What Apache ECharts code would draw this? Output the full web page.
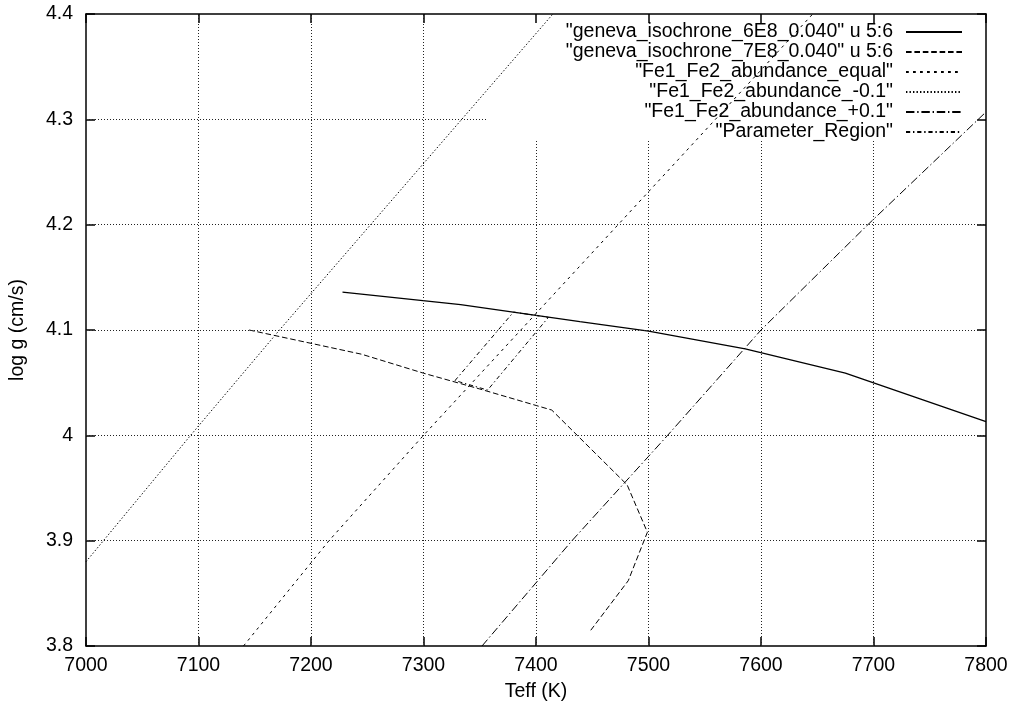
<!DOCTYPE html>
<html>
<head>
<meta charset="utf-8">
<title>Teff vs log g</title>
<script src="https://cdn.jsdelivr.net/npm/echarts@6/dist/echarts.min.js"></script>
<style>
  html, body { margin: 0; padding: 0; background: #fff; }
  #chart { width: 1014px; height: 706px; }
</style>
</head>
<body>
<div id="chart"></div>
<script>
// axis ticks
const xTicks = [7000, 7100, 7200, 7300, 7400, 7500, 7600, 7700, 7800];
const yTicks = [3.8, 3.9, 4.0, 4.1, 4.2, 4.3, 4.4];

// geneva isochrone 6E8 (solid)
const iso6Teff = [7228, 7333, 7439, 7500, 7586, 7675, 7800];
const iso6Logg = [4.136, 4.124, 4.108, 4.099, 4.082, 4.059, 4.013];

// geneva isochrone 7E8 (dashed)
const iso7Teff = [7145, 7245, 7300, 7350, 7414, 7481, 7499, 7482, 7448];
const iso7Logg = [4.100, 4.077, 4.059, 4.044, 4.024, 3.953, 3.908, 3.862, 3.814];

// Fe1/Fe2 abundance lines
const eqTeff = [7140, 7216, 7300, 7646];
const eqLogg = [3.80, 3.90, 4.00, 4.40];
const minusTeff = [7000, 7093, 7172, 7415];
const minusLogg = [3.88, 4.00, 4.10, 4.40];
const plusTeff = [7352, 7432, 7517, 7600, 7695, 7800];
const plusLogg = [3.80, 3.90, 4.00, 4.10, 4.20, 4.307];

// parameter region outline
const regionTeff = [7328, 7380, 7411, 7357, 7328];
const regionLogg = [4.052, 4.117, 4.112, 4.043, 4.052];

// the key hides the grid in the upper right corner
const keyLeftTeff = 7356;
const keyBottomLogg = 4.28;

const FONT = 'Liberation Sans, Arial, sans-serif';
const pts = (xs, ys) => xs.map((x, i) => [x, ys[i]]);

const names = [
  '"geneva_isochrone_6E8_0.040" u 5:6',
  '"geneva_isochrone_7E8_0.040" u 5:6',
  '"Fe1_Fe2_abundance_equal"',
  '"Fe1_Fe2_abundance_-0.1"',
  '"Fe1_Fe2_abundance_+0.1"',
  '"Parameter_Region"'
];

function lineSeries(name, data, dash, width) {
  return {
    name: name,
    type: 'line',
    data: data,
    symbol: 'none',
    showSymbol: false,
    z: 3,
    lineStyle: { color: '#000', width: width || 1, type: dash }
  };
}

const gridLines = [];
xTicks.slice(1, -1).forEach(t => {
  gridLines.push([{ coord: [t, 3.8] }, { coord: [t, t > keyLeftTeff ? keyBottomLogg : 4.4] }]);
});
yTicks.slice(1, -1).forEach(g => {
  gridLines.push([{ coord: [7000, g] }, { coord: [g > keyBottomLogg ? keyLeftTeff : 7800, g] }]);
});

const chart = echarts.init(document.getElementById('chart'));

const axisLineStyle = { color: '#000', width: 1.5 };
const tickStyle = { inside: true, length: 9, lineStyle: { color: '#000', width: 1.5 } };

chart.setOption({
  animation: false,
  backgroundColor: '#fff',
  grid: { left: 86, right: 28, top: 14, bottom: 60, containLabel: false, outerBoundsMode: 'none' },
  legend: {
    data: names,
    orient: 'vertical',
    right: 46,
    top: 17,
    align: 'right',
    itemWidth: 56,
    itemHeight: 20,
    itemGap: 0,
    selectedMode: false,
    itemStyle: { opacity: 0 },
    textStyle: { fontFamily: FONT, fontSize: 19.5, color: '#000', padding: [0, 8, 0, 0] }
  },
  xAxis: [
    {
      type: 'value', position: 'bottom', min: 7000, max: 7800, interval: 100,
      name: 'Teff (K)', nameLocation: 'middle', nameGap: 36,
      nameTextStyle: { fontFamily: FONT, fontSize: 19.5, color: '#000' },
      axisLine: { lineStyle: axisLineStyle },
      axisTick: tickStyle,
      axisLabel: { fontFamily: FONT, fontSize: 19.5, color: '#000', margin: 10, formatter: v => String(v) },
      splitLine: { show: false }
    },
    {
      type: 'value', position: 'top', min: 7000, max: 7800, interval: 100,
      axisLine: { lineStyle: axisLineStyle },
      axisTick: tickStyle,
      axisLabel: { show: false },
      splitLine: { show: false }
    }
  ],
  yAxis: [
    {
      type: 'value', position: 'left', min: 3.8, max: 4.4, interval: 0.1,
      name: 'log g (cm/s)', nameLocation: 'middle', nameGap: 58,
      nameTextStyle: { fontFamily: FONT, fontSize: 19.5, color: '#000' },
      axisLine: { show: true, lineStyle: axisLineStyle },
      axisTick: { show: true, inside: true, length: 9, lineStyle: { color: '#000', width: 1.5 } },
      axisLabel: { fontFamily: FONT, fontSize: 19.5, color: '#000', margin: 13 },
      splitLine: { show: false }
    },
    {
      type: 'value', position: 'right', min: 3.8, max: 4.4, interval: 0.1,
      axisLine: { show: true, lineStyle: axisLineStyle },
      axisTick: { show: true, inside: true, length: 9, lineStyle: { color: '#000', width: 1.5 } },
      axisLabel: { show: false },
      splitLine: { show: false }
    }
  ],
  series: [
    {
      name: 'grid',
      type: 'line',
      data: [],
      z: 1,
      silent: true,
      markLine: {
        silent: true,
        symbol: ['none', 'none'],
        label: { show: false },
        lineStyle: { color: '#222', width: 1, type: [1, 2] },
        data: gridLines
      }
    },
    lineSeries(names[0], pts(iso6Teff, iso6Logg), 'solid', 1.3),
    lineSeries(names[1], pts(iso7Teff, iso7Logg), [5.6, 2.8]),
    lineSeries(names[2], pts(eqTeff, eqLogg), [2.8, 4.2]),
    lineSeries(names[3], pts(minusTeff, minusLogg), [1.4, 2.1]),
    lineSeries(names[4], pts(plusTeff, plusLogg), [8.4, 2.8, 1.4, 2.8]),
    lineSeries(names[5], pts(regionTeff, regionLogg), [4.2, 2.8, 1.4, 2.8])
  ]
});
</script>
</body>
</html>
